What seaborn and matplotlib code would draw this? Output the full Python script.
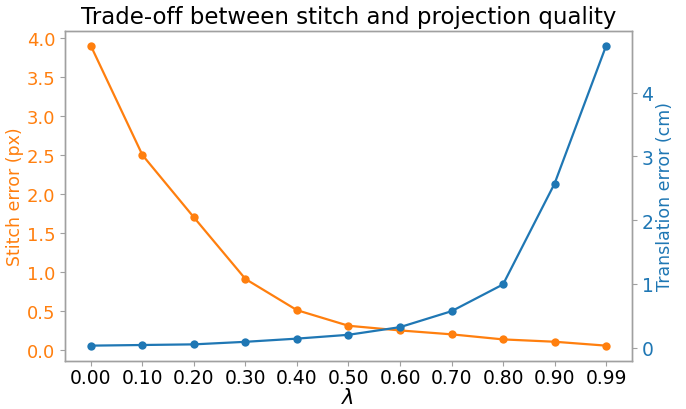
import matplotlib
matplotlib.use("Agg")
import matplotlib.pyplot as plt
import seaborn as sns
import pandas as pd

# 데이터
lambdas = ["0.00", "0.10", "0.20", "0.30", "0.40", "0.50", "0.60", "0.70", "0.80", "0.90", "0.99"]
stitch_err = [3.9, 2.5, 1.7, 0.91, 0.51, 0.31, 0.25, 0.2, 0.135, 0.105, 0.055]
trans_err = [0.03, 0.04, 0.05, 0.09, 0.14, 0.2, 0.32, 0.57, 0.99, 2.57, 4.73]

c_orange = "#ff7f0e"
c_blue = "#1f77b4"
edge = "#a0a0a0"

sns.set_style("white")
plt.rcParams["font.family"] = ["DejaVu Sans"]
plt.rcParams["text.color"] = "black"

df = pd.DataFrame({"pos": range(len(lambdas)), "stitch": stitch_err, "trans": trans_err})

fig, ax = plt.subplots(figsize=(6.86, 4.10), dpi=100)
ax2 = ax.twinx()

sns.lineplot(data=df, x="pos", y="stitch", ax=ax, color=c_orange, marker="o",
             markersize=6, markeredgewidth=0, linewidth=1.6)
sns.lineplot(data=df, x="pos", y="trans", ax=ax2, color=c_blue, marker="o",
             markersize=6, markeredgewidth=0, linewidth=1.6)

ax.set_xticks(range(len(lambdas)))
ax.set_xticklabels(lambdas)
ax.set_xlabel("λ", fontsize=15, color="black", style="italic", labelpad=0)
ax.set_ylabel("Stitch error (px)", color=c_orange, fontsize=12.5, labelpad=2)
ax2.set_ylabel("Translation error (cm)", color=c_blue, fontsize=12.5, labelpad=2)
ax.set_title("Trade-off between stitch and projection quality", fontsize=16.5, color="black")

ax.set_yticks([0, 0.5, 1.0, 1.5, 2.0, 2.5, 3.0, 3.5, 4.0])
ax2.set_yticks([0, 1, 2, 3, 4])

ax.tick_params(axis="x", labelsize=13.5, colors=edge, labelcolor="black", length=3.5, pad=2, bottom=True)
ax.tick_params(axis="y", labelsize=13, colors=edge, labelcolor=c_orange, length=3.5, left=True)
ax2.tick_params(axis="y", labelsize=13.5, colors=edge, labelcolor=c_blue, length=3.5, right=True)

for a in (ax, ax2):
    for s in a.spines.values():
        s.set_color(edge)
        s.set_linewidth(1.0)

plt.subplots_adjust(left=0.095, right=0.921, top=0.922, bottom=0.118)
plt.savefig("out.png", dpi=100)
